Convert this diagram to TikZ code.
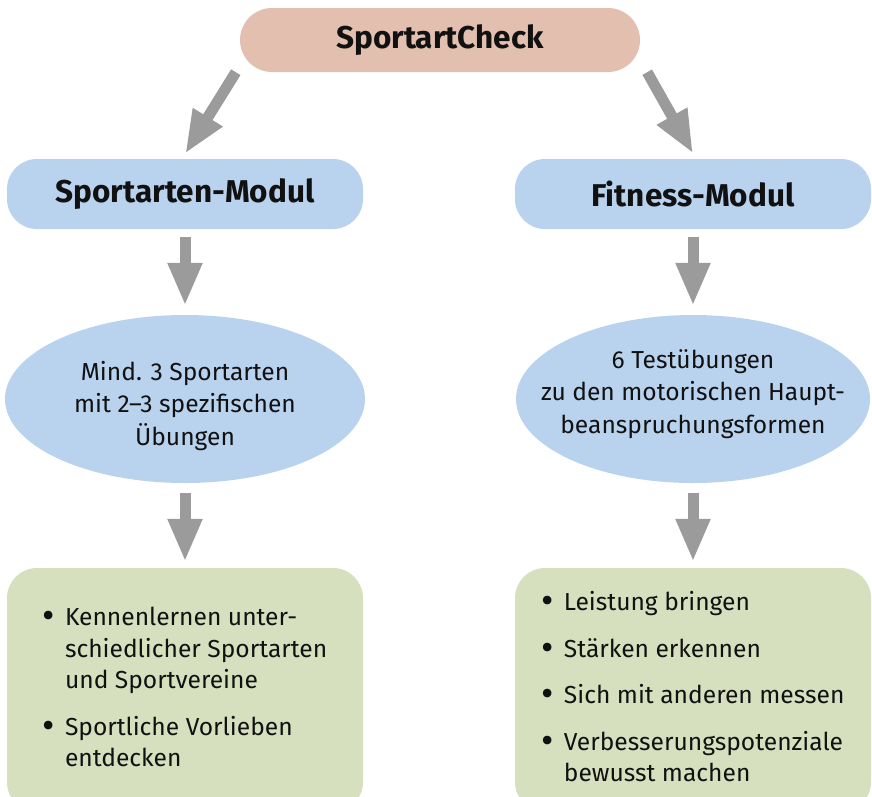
\documentclass[tikz,border=0pt]{standalone}
\usepackage{fontspec}
\setmainfont{Fira Sans}
\usetikzlibrary{arrows.meta,shapes.geometric}
\definecolor{checkred}{HTML}{E2BFAF}
\definecolor{modulblue}{HTML}{B9D3EF}
\definecolor{zielgreen}{HTML}{D6E0BF}
\definecolor{arrowgray}{HTML}{9B9B9B}
\definecolor{textblack}{HTML}{111111}
\tikzset{
  pill/.style={rectangle, rounded corners=30pt, inner sep=0pt, minimum width=356pt, minimum height=70pt, fill=modulblue, font=\fontsize{31.5}{36}\selectfont\bfseries},
  oval/.style={ellipse, inner sep=0pt, minimum width=360pt, minimum height=168pt, fill=modulblue},
  ovaltext/.style={align=center, inner sep=0pt, font=\fontsize{24.6}{32.5}\selectfont},
  ziel/.style={rectangle, rounded corners=30pt, inner sep=0pt, minimum width=356pt, minimum height=244pt, fill=zielgreen, align=left, font=\fontsize{24.6}{31.5}\selectfont},
  pfeil/.style={draw=arrowgray, line width=11pt, -{Triangle[width=32pt,length=43pt]}}
}
\newcommand{\zielliste}[1]{\begin{tabular}{@{}l@{\hspace{10pt}}l@{}}#1\end{tabular}}
\newcommand{\blt}{\raisebox{-3pt}{\fontsize{38}{38}\selectfont\textbullet}}
\begin{document}
\begin{tikzpicture}[x=1pt,y=-1pt,text=textblack]
\useasboundingbox (0,0) rectangle (872,796);

%Top
\node[pill, fill=checkred, minimum width=400pt, minimum height=64pt, rounded corners=32pt] (check) at (440,40) {SportartCheck};

%Modules
\node[pill] (sport) at (185,194) {Sportarten-Modul};
\node[pill] (fit) at (693,194) {Fitness-Modul};

%Ovals
\node[oval] (sportov) at (185,399) {};
\node[ovaltext] (sportovtext) at ([yshift=-7pt]sportov.center) {Mind. 3 Sportarten\\mit 2--3 spezifischen\\Übungen};
\node[oval, minimum width=354pt] (fitov) at (693,399) {};
\node[ovaltext] (fitovtext) at ([yshift=5pt]fitov.center) {6 Testübungen\\zu den motorischen Haupt-\\beanspruchungsformen};

%Goals
\node[ziel] (sportziel) at (185,690) {\zielliste{%
  \blt & Kennenlernen unter-\\
  & schiedlicher Sportarten\\
  & und Sportvereine\\[15pt]
  \blt & Sportliche Vorlieben\\
  & entdecken}};
\node[ziel] (fitziel) at (693,690) {\zielliste{%
  \blt & Leistung bringen\\[15pt]
  \blt & Stärken erkennen\\[15pt]
  \blt & Sich mit anderen messen\\[15pt]
  \blt & Verbesserungspotenziale\\
  & bewusst machen}};

%Arrows
\draw[pfeil, shorten >=6pt] ([xshift=-4pt]check.south west) -- ([xshift=-3pt]sport.north);
\draw[pfeil, shorten >=6pt] ([xshift=7pt]check.south east) -- ([xshift=3pt]fit.north);
\draw[pfeil, shorten <=8pt, shorten >=9pt] (sport.south) -- (sportov.north);
\draw[pfeil, shorten <=8pt, shorten >=9pt] (fit.south) -- (fitov.north);
\draw[pfeil, shorten <=10pt, shorten >=6pt] (sportov.south) -- (sportziel.north);
\draw[pfeil, shorten <=10pt, shorten >=6pt] (fitov.south) -- (fitziel.north);
\end{tikzpicture}
\end{document}
